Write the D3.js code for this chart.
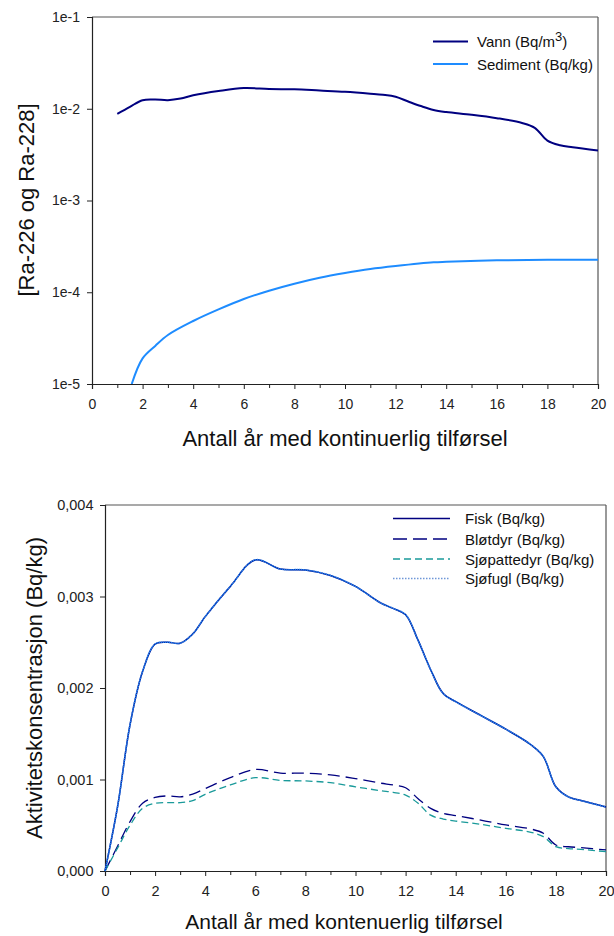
<!DOCTYPE html>
<html><head><meta charset="utf-8">
<script src="https://cdn.jsdelivr.net/npm/d3@7"></script>
<style>
html,body{margin:0;padding:0;background:#fff;}
svg{display:block;font-family:"Liberation Sans",Arial,sans-serif;}
</style></head>
<body>
<svg id="c" width="614" height="936"></svg>
<script>
// ---------- DATA: top chart (log scale) ----------
const vannYears = [1,1.5,2,2.5,3,3.5,4,5,6,7,8,9,10,11,11.5,12,12.5,13,13.5,14,15,16,17,17.5,18,18.5,19,20];
const vannValues = [0.0088,0.0105,0.0124,0.0126,0.0124,0.0129,0.0140,0.0156,0.0168,0.0164,0.0163,0.0158,0.0153,0.0146,0.0142,0.01352,0.0120,0.0107,0.0097,0.0092,0.0086,0.0079,0.0070,0.0062,0.0045,0.0040,0.0038,0.0035];
const sedimentYears = [1.57,2,2.5,3,4,5,6,7,8,9,10,11,12,13.5,14,16,18,20];
const sedimentValues = [1.0e-5,1.9e-5,2.6e-5,3.42e-5,4.86e-5,6.5e-5,8.44e-5,1.04e-4,1.24e-4,1.44e-4,1.62e-4,1.79e-4,1.93e-4,2.12e-4,2.15e-4,2.23e-4,2.26e-4,2.26e-4];
const topYTicks = [1e-5,1e-4,1e-3,1e-2,1e-1];
const topYTickLabels = ["1e-5","1e-4","1e-3","1e-2","1e-1"];
const xTickValues = [0,2,4,6,8,10,12,14,16,18,20];
const xMinorTicks = [1,3,5,7,9,11,13,15,17,19];
const topSeriesNames = ["Vann (Bq/m","Sediment (Bq/kg)"];

// ---------- DATA: bottom chart (linear) ----------
const bioYears = [0,0.5,1,1.5,2,2.5,3,3.5,4,5,6,7,8,9,10,11,11.5,12,12.5,13,13.5,14,15,16,17,17.5,18,18.5,19,20];
const fiskValues = [0,0.0007,0.0016,0.00218,0.00248,0.0025,0.00249,0.00259,0.00278,0.00311,0.0034,0.0033,0.00329,0.00323,0.00311,0.00293,0.00287,0.0028,0.00252,0.0022,0.00194,0.00185,0.0017,0.00155,0.00138,0.00125,0.00092,0.00081,0.00077,0.0007];
const blotdyrValues = [0,0.00027,0.00054,0.00074,0.000805,0.00082,0.00081,0.00084,0.0009,0.00102,0.00111,0.00107,0.00107,0.00105,0.00101,0.00096,0.00094,0.00091,0.00079,0.000685,0.00063,0.000605,0.000557,0.000503,0.000459,0.000412,0.000284,0.000265,0.000255,0.00023];
const sjopattedyrValues = [0,0.00025,0.0005,0.000685,0.00074,0.000748,0.000747,0.00077,0.000838,0.00094,0.00102,0.00099,0.000984,0.000965,0.00092,0.000878,0.00086,0.00083,0.00074,0.00061,0.000568,0.000546,0.00051,0.000466,0.000423,0.000375,0.000266,0.000245,0.000237,0.000211];
const sjofuglValues = [0,0.0007,0.0016,0.00218,0.00248,0.0025,0.00249,0.00259,0.00278,0.00311,0.0034,0.0033,0.00329,0.00323,0.00311,0.00293,0.00287,0.0028,0.00252,0.0022,0.00194,0.00185,0.0017,0.00155,0.00138,0.00125,0.00092,0.00081,0.00077,0.0007];
const botYTicks = [0,0.001,0.002,0.003,0.004];
const botYTickLabels = ["0,000","0,001","0,002","0,003","0,004"];
const botSeriesNames = ["Fisk (Bq/kg)","Bløtdyr (Bq/kg)","Sjøpattedyr (Bq/kg)","Sjøfugl (Bq/kg)"];

const svg = d3.select("#c");
svg.append("rect").attr("width",614).attr("height",936).attr("fill","#fff");
const axisCol = "#222", frameCol = "#555";

function drawXAxis(g, x, yPos, labelOffset, fs) {
  const ax = g.append("g").attr("transform",`translate(0,${yPos})`)
    .call(d3.axisBottom(x).tickValues(xTickValues).tickSize(5).tickPadding(labelOffset).tickFormat(d3.format("d")));
  ax.select(".domain").attr("stroke",axisCol).attr("stroke-width",1.2);
  ax.selectAll(".tick line").attr("stroke",axisCol);
  ax.selectAll(".tick text").attr("font-size",fs).attr("fill","#222").attr("font-family","Liberation Sans, Arial, sans-serif");
  const mn = g.append("g").attr("transform",`translate(0,${yPos})`)
    .call(d3.axisBottom(x).tickValues(xMinorTicks).tickSize(4).tickFormat(""));
  mn.select(".domain").remove();
  mn.selectAll(".tick line").attr("stroke",axisCol);
}

// ================= TOP CHART =================
const xT = d3.scaleLinear().domain([0,20]).range([92,598]);
const yT = d3.scaleLog().domain([1e-5,1e-1]).range([384,17]);
const gT = svg.append("g");
svg.append("defs").append("clipPath").attr("id","clipT").append("rect")
  .attr("x",92).attr("y",17).attr("width",506).attr("height",367);

// frame
gT.append("line").attr("x1",92).attr("x2",598).attr("y1",17).attr("y2",17).attr("stroke",frameCol).attr("stroke-width",1.2);
gT.append("line").attr("x1",598).attr("x2",598).attr("y1",17).attr("y2",384).attr("stroke",frameCol).attr("stroke-width",1.2);

drawXAxis(gT, xT, 384, 10, 14);
const yAxT = gT.append("g").attr("transform","translate(92,0)")
  .call(d3.axisLeft(yT).tickValues(topYTicks).tickSize(5).tickPadding(7)
    .tickFormat((d,i)=>topYTickLabels[i]));
yAxT.select(".domain").attr("stroke",axisCol).attr("stroke-width",1.2);
yAxT.selectAll(".tick line").attr("stroke",axisCol);
yAxT.selectAll(".tick text").attr("font-size",14).attr("fill","#222").attr("font-family","Liberation Sans, Arial, sans-serif");

const lineT = d3.line().x(d=>xT(d[0])).y(d=>yT(d[1])).curve(d3.curveCatmullRom.alpha(0.5));
gT.append("path").datum(vannYears.map((v,i)=>[v,vannValues[i]]))
  .attr("d",lineT).attr("fill","none").attr("stroke","#000080").attr("stroke-width",2).attr("clip-path","url(#clipT)");
gT.append("path").datum(sedimentYears.map((v,i)=>[v,sedimentValues[i]]))
  .attr("d",lineT).attr("fill","none").attr("stroke","#1E8CFF").attr("stroke-width",2).attr("clip-path","url(#clipT)");

// legend top
const legT = gT.append("g");
legT.append("line").attr("x1",433).attr("x2",468).attr("y1",41.5).attr("y2",41.5).attr("stroke","#000080").attr("stroke-width",2);
legT.append("line").attr("x1",433).attr("x2",468).attr("y1",64).attr("y2",64).attr("stroke","#1E8CFF").attr("stroke-width",2);
const t1 = legT.append("text").attr("x",477).attr("y",47).attr("font-size",15).attr("fill","#111");
t1.append("tspan").text(topSeriesNames[0]);
t1.append("tspan").attr("dy",-6).attr("font-size",13).text("3");
t1.append("tspan").attr("dy",6).text(")");
legT.append("text").attr("x",477).attr("y",69.5).attr("font-size",15).attr("fill","#111").text(topSeriesNames[1]);

// axis labels
gT.append("text").attr("transform","translate(34,200) rotate(-90)").attr("text-anchor","middle")
  .attr("font-size",22).attr("fill","#111").text("[Ra-226 og Ra-228]");
gT.append("text").attr("x",345).attr("y",446).attr("text-anchor","middle").attr("font-size",22)
  .attr("fill","#111").text("Antall år med kontinuerlig tilførsel");

// ================= BOTTOM CHART =================
const xB = d3.scaleLinear().domain([0,20]).range([105,606]);
const yB = d3.scaleLinear().domain([0,0.004]).range([871,505]);
const gB = svg.append("g");
gB.append("line").attr("x1",105).attr("x2",606).attr("y1",505).attr("y2",505).attr("stroke",frameCol).attr("stroke-width",1.2);
gB.append("line").attr("x1",606).attr("x2",606).attr("y1",505).attr("y2",871).attr("stroke",frameCol).attr("stroke-width",1.2);

drawXAxis(gB, xB, 871, 10, 14.5);
const yAxB = gB.append("g").attr("transform","translate(105,0)")
  .call(d3.axisLeft(yB).tickValues(botYTicks).tickSize(5).tickPadding(6.5)
    .tickFormat((d,i)=>botYTickLabels[i]));
yAxB.select(".domain").attr("stroke",axisCol).attr("stroke-width",1.2);
yAxB.selectAll(".tick line").attr("stroke",axisCol);
yAxB.selectAll(".tick text").attr("font-size",14.5).attr("fill","#222").attr("font-family","Liberation Sans, Arial, sans-serif");

const lineB = d3.line().x(d=>xB(d[0])).y(d=>yB(d[1])).curve(d3.curveCatmullRom.alpha(0.5));
const bioSeries = [
  {vals: blotdyrValues, color:"#000080", dash:"12,6", w:1.3},
  {vals: sjopattedyrValues, color:"#1A9A9A", dash:"7,4", w:1.3},
  {vals: fiskValues, color:"#000080", dash:null, w:1.5},
  {vals: sjofuglValues, color:"#1E7FEF", dash:"1.5,0.6", w:1.6}
];
bioSeries.forEach(s=>{
  const p = gB.append("path").datum(bioYears.map((v,i)=>[v,s.vals[i]]))
    .attr("d",lineB).attr("fill","none").attr("stroke",s.color).attr("stroke-width",s.w);
  if (s.dash) p.attr("stroke-dasharray",s.dash);
});

// legend bottom
const legB = gB.append("g");
const legYs = [518.5,539,559,578.5];
const legStyles = [
  {color:"#000080", dash:null, w:1.3},
  {color:"#000080", dash:"14,6", w:1.3},
  {color:"#1A9A9A", dash:"7,4", w:1.3},
  {color:"#6F97D8", dash:"1.5,1.5", w:1.3}
];
legStyles.forEach((s,i)=>{
  const l = legB.append("line").attr("x1",393).attr("x2",450).attr("y1",legYs[i]).attr("y2",legYs[i])
    .attr("stroke",s.color).attr("stroke-width",s.w);
  if (s.dash) l.attr("stroke-dasharray",s.dash);
  legB.append("text").attr("x",465).attr("y",legYs[i]+5.5).attr("font-size",15).attr("fill","#111").text(botSeriesNames[i]);
});

gB.append("text").attr("transform","translate(42,688) rotate(-90)").attr("text-anchor","middle")
  .attr("font-size",22).attr("fill","#111").text("Aktivitetskonsentrasjon (Bq/kg)");
gB.append("text").attr("x",344).attr("y",929).attr("text-anchor","middle").attr("font-size",21)
  .attr("fill","#111").text("Antall år med kontenuerlig tilførsel");
</script>
</body></html>
